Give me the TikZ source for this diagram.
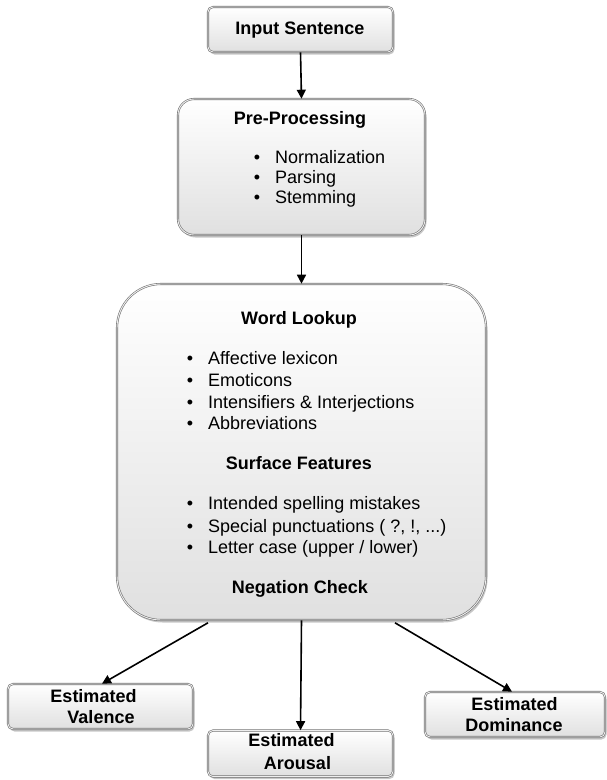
\documentclass[tikz,border=0pt]{standalone}
\usepackage{fontspec}
\setmainfont{Liberation Sans}
\usetikzlibrary{arrows.meta,shadows,calc}
\definecolor{edgegray}{RGB}{115,115,115}
\definecolor{innergray}{RGB}{238,238,238}
\definecolor{boxbottom}{RGB}{224,224,224}
\begin{document}
\begin{tikzpicture}[x=1pt,y=-1pt,
  box/.style={draw=edgegray, double=innergray, double distance=0.9pt, line width=0.6pt,
    top color=white, bottom color=boxbottom, inner sep=0pt, anchor=center,
    drop shadow={shadow xshift=1.5pt, shadow yshift=-2.5pt, fill=black, opacity=0.22}},
  txt/.style={font=\fontsize{18}{20}\selectfont, inner sep=0pt, anchor=base},
  ttl/.style={txt, font=\fontsize{18}{20}\selectfont\bfseries},
  itm/.style={txt, anchor=base west},
  bul/.style={txt, anchor=base},
  arr/.style={-{Triangle[length=9pt,width=9pt]}, line width=1.6pt, black}]
\useasboundingbox (0,0) rectangle (606,780);

% boxes
\node[box, rounded corners=5pt, minimum width=185pt, minimum height=45pt] (inp) at (300.5,29.5) {};
\node[box, rounded corners=16pt, minimum width=247pt, minimum height=136pt] (pp) at (301.5,167) {};
\node[box, rounded corners=44pt, minimum width=369pt, minimum height=336pt] (wl) at (301.5,452) {};
\node[box, rounded corners=5pt, minimum width=185pt, minimum height=45pt] (val) at (100.5,706.5) {};
\node[box, rounded corners=5pt, minimum width=185pt, minimum height=46pt] (aro) at (300.5,753.5) {};
\node[box, rounded corners=5pt, minimum width=180pt, minimum height=45pt] (dom) at (515,714.5) {};

% input
\node[ttl] (tinp) at (300,34.5) {Input Sentence};

% pre-processing
\node[ttl] (tpp) at (300,124.5) {Pre-Processing};
\node[bul] (b1) at (257,163.5) {•};
\node[itm] (i1) at (275,163.5) {Normalization};
\node[bul] (b2) at (257,183.5) {•};
\node[itm] (i2) at (275,183.5) {Parsing};
\node[bul] (b3) at (257,203.5) {•};
\node[itm] (i3) at (275,203.5) {Stemming};

% word lookup
\node[ttl] (twl) at (299,324.5) {Word Lookup};
\node[bul] (b4) at (190,364.5) {•};
\node[itm] (i4) at (208,364.5) {Affective lexicon};
\node[bul] (b5) at (190,386.5) {•};
\node[itm] (i5) at (208,386.5) {Emoticons};
\node[bul] (b6) at (190,408.5) {•};
\node[itm] (i6) at (208,408.5) {Intensifiers \& Interjections};
\node[bul] (b7) at (190,429.5) {•};
\node[itm] (i7) at (208,429.5) {Abbreviations};
\node[ttl] (tsf) at (299,469.5) {Surface Features};
\node[bul] (b8) at (190,509.5) {•};
\node[itm] (i8) at (208,509.5) {Intended spelling mistakes};
\node[bul] (b9) at (190,532.5) {•};
\node[itm] (i9) at (208,532.5) {Special punctuations ( ?, !, ...)};
\node[bul] (b10) at (190,553.5) {•};
\node[itm] (i10) at (208,553.5) {Letter case (upper / lower)};
\node[ttl] (tnc) at (300,593.5) {Negation Check};

% outputs
\node[ttl] (tv1) at (93.5,702.5) {Estimated};
\node[ttl] (tv2) at (101,723.5) {Valence};
\node[ttl] (ta1) at (291.5,746.5) {Estimated};
\node[ttl] (ta2) at (297.5,769.5) {Arousal};
\node[ttl] (td1) at (514.5,710.5) {Estimated};
\node[ttl] (td2) at (514,731.5) {Dominance};

% connectors
\draw[arr] (inp.south) -- (pp.north);
\draw[arr] (pp.south) -- (wl.north);
\coordinate (wlL) at ($(wl.south)+(-93.5,2.5)$);
\coordinate (wlR) at ($(wl.south)+(93.5,2.5)$);
\draw[arr] (wlL) -- ($(val.north)+(1.5,0)$);
\draw[arr] (wl.south) -- (aro.north);
\draw[arr] (wlR) -- ($(dom.north)+(-3,0)$);
\end{tikzpicture}
\end{document}
